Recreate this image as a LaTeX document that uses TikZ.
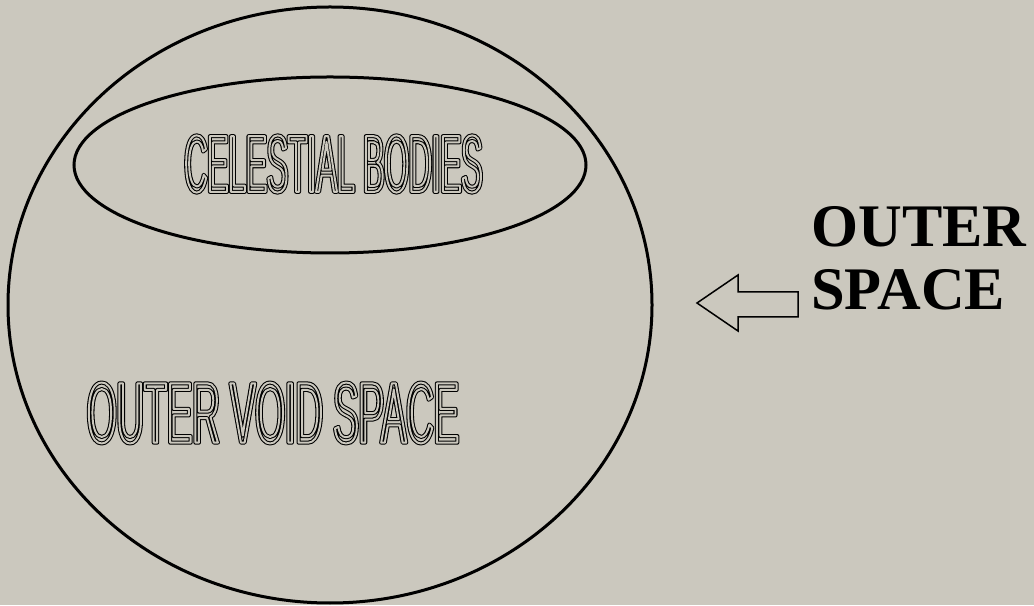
\documentclass[tikz,border=0pt]{standalone}
\usepackage{fontspec}
\setmainfont{Liberation Serif}
\newfontfamily\bodiesfont[FakeStretch=0.39]{Liberation Sans}
\newfontfamily\voidfont[FakeStretch=0.44]{Liberation Sans}
\definecolor{paper}{RGB}{203,200,190}
\newcommand{\strokeon}[1]{\special{pdf:literal direct 1 Tr 1 j #1 w}}
\newcommand{\strokeoff}{\special{pdf:literal direct 0 Tr 0 j}}
\newcommand{\hollow}[1]{\rlap{\strokeon{2.3}#1\strokeoff}%
  {\color{paper}\strokeon{1.1}#1\strokeoff}}
\begin{document}
\begin{tikzpicture}[x=1mm,y=1mm,
  rim/.style={line width=0.6mm},
  hollowtext/.style={inner sep=0pt,anchor=center},
  spacetext/.style={font=\bfseries\fontsize{34.4}{36}\selectfont,inner sep=0pt,anchor=base west}]
\fill[paper] (0,0) rectangle (206.8,121);
\useasboundingbox (0,0) rectangle (206.8,121);
\draw[rim] (66,60) ellipse [x radius=64.4,y radius=59.6];
\draw[rim] (66,88) ellipse [x radius=51.2,y radius=17.6];
\node[hollowtext,font=\bodiesfont\fontsize{46}{46}\selectfont] (bodies) at (66.7,88.2)
  {\hollow{CELESTIAL BODIES}};
\node[hollowtext,font=\voidfont\fontsize{49}{49}\selectfont] (void) at (54.6,38.4)
  {\hollow{OUTER VOID SPACE}};
\node[spacetext] (outer) at (162.2,71.6) {OUTER};
\node[spacetext] (space) at (162.2,59) {SPACE};
\draw[line width=0.3mm,line join=miter] (139.4,60.4) -- (147.6,66) -- (147.6,62.6)
  -- (159.6,62.6) -- (159.6,57.6) -- (147.6,57.6) -- (147.6,54.8) -- cycle;
\end{tikzpicture}
\end{document}
